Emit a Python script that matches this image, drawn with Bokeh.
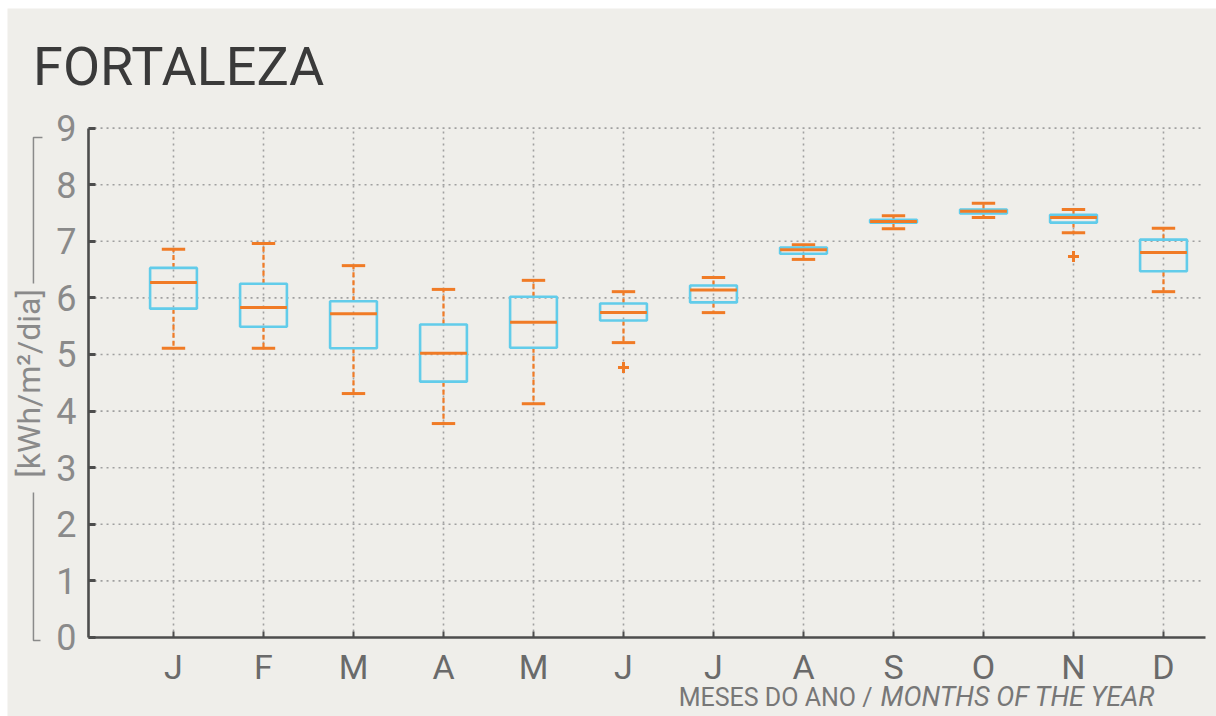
import math
from bokeh.plotting import figure
from bokeh.models import Range1d, Label, FixedTicker
from bokeh.embed import file_html
from bokeh.resources import INLINE

# ---- data ----
months = ["J", "F", "M", "A", "M", "J", "J", "A", "S", "O", "N", "D"]
month_pos = [1, 2, 3, 4, 5, 6, 7, 8, 9, 10, 11, 12]
upper = [6.86, 6.96, 6.57, 6.15, 6.31, 6.11, 6.36, 6.94, 7.45, 7.67, 7.56, 7.23]
q3 = [6.53, 6.25, 5.94, 5.53, 6.02, 5.90, 6.22, 6.89, 7.38, 7.56, 7.47, 7.03]
median = [6.27, 5.83, 5.72, 5.02, 5.57, 5.74, 6.14, 6.85, 7.35, 7.53, 7.42, 6.80]
q1 = [5.81, 5.49, 5.11, 4.52, 5.12, 5.60, 5.92, 6.78, 7.33, 7.49, 7.33, 6.47]
lower = [5.11, 5.11, 4.31, 3.78, 4.13, 5.21, 5.74, 6.68, 7.22, 7.42, 7.15, 6.11]
outlier_x = [6, 11]
outlier_y = [4.77, 6.73]
y_ticks = [0, 1, 2, 3, 4, 5, 6, 7, 8, 9]

BG = "#efeeea"
CYAN = "#62ccea"
ORANGE = "#f07b26"
AXIS = "#4d4d4d"
GRID = "#a0a0a0"
LABEL_GRAY = "#8a8a8a"

# chart area bounds (data units)
X_LEFT, X_RIGHT = 0.056, 12.43
Y_TOP = 9

p = figure(width=1216, height=716, output_backend="svg", toolbar_location=None,
           x_range=Range1d(-0.8444, 12.589), y_range=Range1d(-1.3958, 11.113),
           min_border_left=7, min_border_top=8, min_border_right=0, min_border_bottom=0)
p.background_fill_color = BG
p.border_fill_color = "white"
p.outline_line_color = None
p.grid.visible = False

# grid lines (dotted), limited to the chart area
p.segment(x0=month_pos, y0=[0] * len(month_pos), x1=month_pos, y1=[Y_TOP] * len(month_pos),
          line_color=GRID, line_width=1.6, line_dash="2 4")
p.segment(x0=[X_LEFT] * 9, y0=y_ticks[1:], x1=[X_RIGHT] * 9, y1=y_ticks[1:],
          line_color=GRID, line_width=1.6, line_dash="2 4")

half = 0.26
capw = 0.13
xl = [m - half for m in month_pos]
xr = [m + half for m in month_pos]

# whiskers
p.segment(x0=month_pos, y0=q3, x1=month_pos, y1=upper, line_color=ORANGE,
          line_width=2.2, line_dash="5 3")
p.segment(x0=month_pos, y0=q1, x1=month_pos, y1=lower, line_color=ORANGE,
          line_width=2.2, line_dash="5 3")
# caps
p.segment(x0=[m - capw for m in month_pos], y0=upper, x1=[m + capw for m in month_pos],
          y1=upper, line_color=ORANGE, line_width=3)
p.segment(x0=[m - capw for m in month_pos], y0=lower, x1=[m + capw for m in month_pos],
          y1=lower, line_color=ORANGE, line_width=3)
# boxes
p.quad(left=xl, right=xr, top=q3, bottom=q1, fill_color=None,
       line_color=CYAN, line_width=2.6)
# medians
p.segment(x0=xl, y0=median, x1=xr, y1=median, line_color=ORANGE, line_width=3)
# outliers
p.scatter(outlier_x, outlier_y, marker="cross", size=11, line_color=ORANGE,
          line_width=3)

# axes, fixed inside the frame
xa = p.xaxis[0]
ya = p.yaxis[0]
xa.fixed_location = 0
ya.fixed_location = X_LEFT
xa.bounds = (X_LEFT, 12.467)
ya.bounds = (0, Y_TOP)
xa.ticker = FixedTicker(ticks=month_pos)
xa.major_label_overrides = {m: t for m, t in zip(month_pos, months)}
ya.ticker = FixedTicker(ticks=y_ticks)
for ax in (xa, ya):
    ax.axis_line_color = AXIS
    ax.axis_line_width = 2.6
    ax.major_tick_line_color = AXIS
    ax.major_tick_out = 0
    ax.minor_tick_line_color = None
    ax.major_label_text_font = "Roboto"
ya.major_tick_in = 7
ya.major_tick_line_width = 3
xa.major_tick_in = 6
xa.major_tick_line_width = 2
ya.major_label_text_font_size = "36px"
ya.major_label_text_color = LABEL_GRAY
ya.major_label_standoff = 12
xa.major_label_text_font_size = "34px"
xa.major_label_text_color = "#6a6a6a"
xa.major_label_standoff = 10

# title
p.add_layout(Label(x=-0.56, y=10.09, text="FORTALEZA", text_font="Roboto",
                   text_font_size="54px", text_color="#3a3a3a",
                   text_baseline="alphabetic", text_align="left"))

# y-axis label with bracket lines
p.add_layout(Label(x=-0.611, y=4.49, text="[kWh/m²/dia]", angle=math.pi / 2,
                   text_font="Roboto", text_font_size="32px",
                   text_color=LABEL_GRAY, text_align="center", text_baseline="middle"))
p.line(x=[-0.456, -0.556, -0.556], y=[8.834, 8.834, 6.254],
       line_color=LABEL_GRAY, line_width=1.5)
p.line(x=[-0.556, -0.556, -0.478], y=[2.562, -0.053, -0.053],
       line_color=LABEL_GRAY, line_width=1.5)

# x-axis title (bottom right)
p.add_layout(Label(x=8.767, y=-1.06, text="MESES DO ANO /",
                   text_font="Roboto", text_font_size="25px",
                   text_color="#777777", text_align="right", text_baseline="alphabetic"))
p.add_layout(Label(x=8.856, y=-1.06, text="MONTHS OF THE YEAR",
                   text_font="Roboto", text_font_size="27px",
                   text_font_style="italic",
                   text_color="#777777", text_align="left", text_baseline="alphabetic"))

open("out.html", "w").write(file_html(p, INLINE))
